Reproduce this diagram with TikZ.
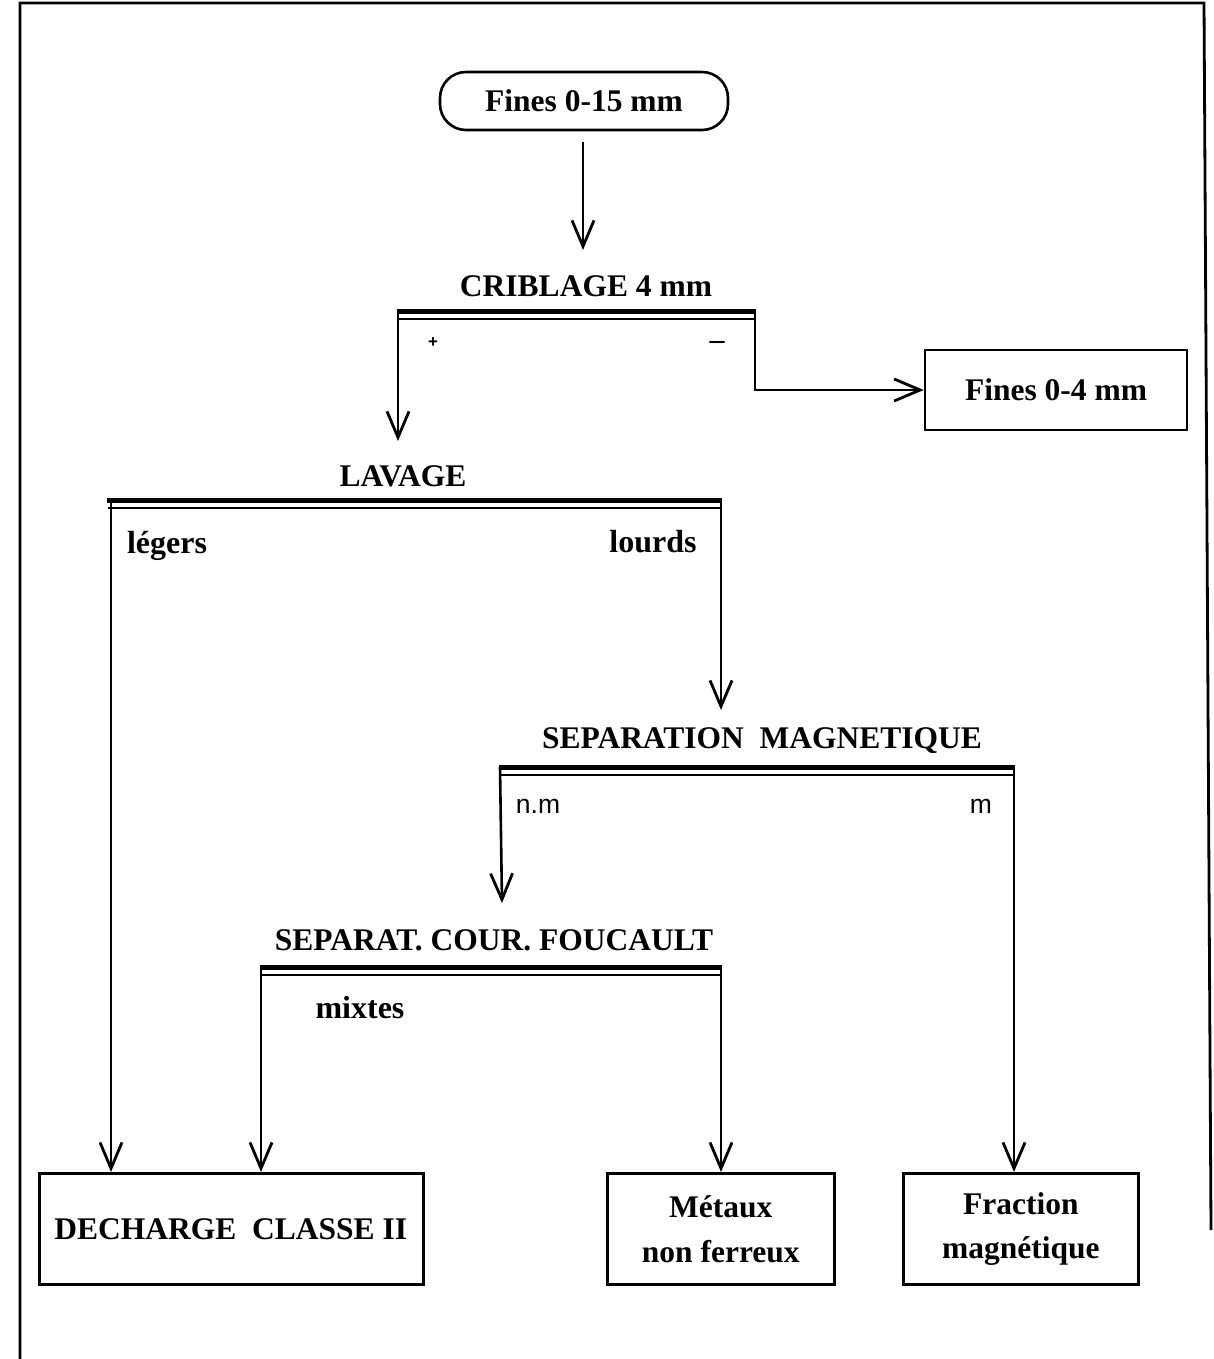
\documentclass[tikz,border=0pt]{standalone}
\usepackage{fontspec}
\setmainfont{Liberation Serif}
\newfontfamily\lsans{Liberation Sans}
\usetikzlibrary{arrows.meta}
\begin{document}
\begin{tikzpicture}[x=1pt,y=-1pt,
  lbl/.style={font=\fontsize{31.5}{34}\selectfont\bfseries, inner sep=0pt},
  sublbl/.style={font=\fontsize{32}{34}\selectfont\bfseries, inner sep=0pt},
  sanslbl/.style={font=\lsans\fontsize{26.5}{28}\selectfont, inner sep=0pt},
  signlbl/.style={font=\lsans\bfseries\fontsize{17}{18}\selectfont, inner sep=0pt},
  minuslbl/.style={font=\fontsize{30}{30}\selectfont\bfseries, inner sep=0pt},
  box/.style={draw, line width=2.6pt, font=\fontsize{31.5}{45}\selectfont\bfseries, align=center, inner sep=0pt},
  flow/.style={line width=2.6pt, -{Straight Barb[length=26pt,width=22pt,line width=2.8pt]}},
  barthick/.style={line width=5pt},
  barthin/.style={line width=2.4pt},
  framel/.style={line width=2.8pt},
]
\useasboundingbox (0,0) rectangle (1214,1359);
% frame
\draw[framel] (20,1359) -- (20,3) -- (1204,3) -- (1211,1230);

% boxes
\node[box, rounded corners=26pt, minimum width=288pt, minimum height=58pt] (start) at (584,101) {Fines 0-15 mm};
\node[box, minimum width=262pt, minimum height=80pt] (fines4) at (1056,390) {Fines 0-4 mm};
\node[box, minimum width=384pt, minimum height=111pt, anchor=north west] (dech) at (38,1172) {DECHARGE\ \ CLASSE II\hspace*{1pt}};
\node[box, minimum width=227pt, minimum height=111pt, anchor=north west] (met) at (606,1172) {M\'etaux\\non ferreux};
\node[box, minimum width=235pt, minimum height=111pt, anchor=north west] (frac) at (902,1172) {\raisebox{-3pt}{Fraction}\\[2pt]magn\'etique};

% stage labels
\node[lbl] (crib) at (586,286) {CRIBLAGE 4 mm};
\node[lbl] (lav) at (403,476) {LAVAGE};
\node[lbl] (sepm) at (762,741) {SEPARATION\ \ MAGNETIQUE};
\node[lbl] (fouc) at (494,940) {SEPARAT. COUR. FOUCAULT};

% branch labels
\node[signlbl] (plus) at (433,343) {+};
\node[minuslbl] (minus) at (717,345) {\textendash};
\node[sublbl] (leg) at (167,546) {l\'egers};
\node[sublbl] (lou) at (653,542) {lourds};
\node[sanslbl] (nm) at (538,806) {n.m};
\node[sanslbl] (mm) at (981,806) {m};
\node[sublbl] (mix) at (360,1008) {mixtes};

% bar coordinates
\coordinate (cL) at (398,311);
\coordinate (cR) at (755,311);
\coordinate (lL) at (108,500);
\coordinate (lR) at (721,500);
\coordinate (sL) at (500,767);
\coordinate (sR) at (1014,767);
\coordinate (fL) at (261,967);
\coordinate (fR) at (721,967);

% arrow tip coordinates
\coordinate (startout) at (583,142);
\coordinate (cribin) at (583,250);
\coordinate (lavin) at (398,441);
\coordinate (sepmin) at (721,710);
\coordinate (foucin) at (502,903);

% bars (double lines)
\foreach \a/\b in {cL/cR, lL/lR, sL/sR, fL/fR}{
  \draw[barthick] ([xshift=-1pt]\a) -- ([xshift=1pt]\b);
  \draw[barthin] ([yshift=-8pt]\a) -- ([yshift=-8pt]\b);
}

% connectors
\draw[flow] (startout) -- (cribin);
\draw[flow] (cL) -- (lavin);
\draw[flow] (cR) |- (fines4.west);
\draw[flow] ([xshift=3pt]lL) -- ([xshift=3pt]lL |- dech.north);
\draw[flow] (lR) -- (sepmin);
\draw[flow] (sL) -- (foucin);
\draw[flow] (sR) -- (sR |- frac.north);
\draw[flow] (fL) -- (fL |- dech.north);
\draw[flow] (fR) -- (fR |- met.north);
\end{tikzpicture}
\end{document}
